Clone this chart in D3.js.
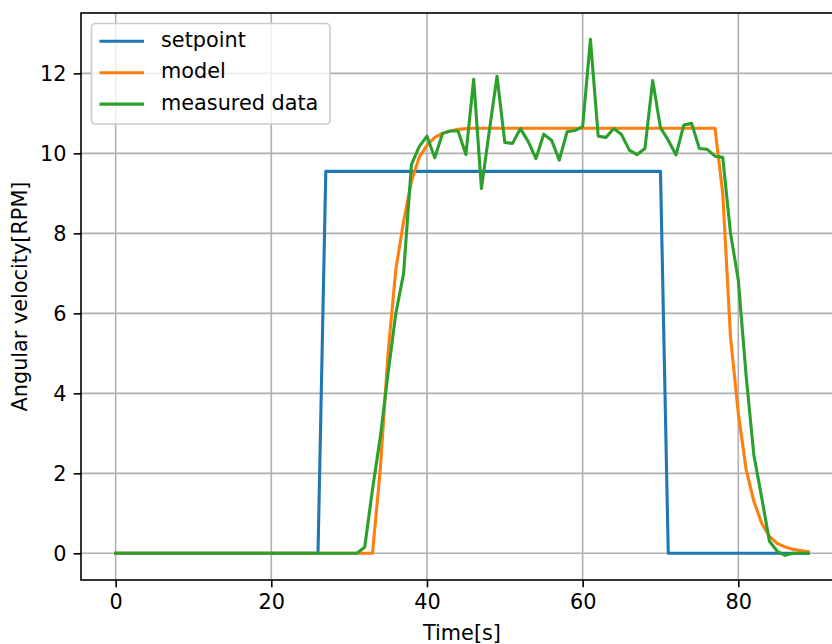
<!DOCTYPE html>
<html>
<head>
<meta charset="utf-8">
<script src="https://cdn.jsdelivr.net/npm/d3@7"></script>
<style>
  body { margin: 0; background: #fff; }
  svg text { font-family: "DejaVu Sans", sans-serif; fill: #000; }
</style>
</head>
<body>
<svg id="chart"></svg>
<script>
// sample times [s]
const time = [0,1,2,3,4,5,6,7,8,9,10,11,12,13,14,15,16,17,18,19,
  20,21,22,23,24,25,26,27,28,29,30,31,32,33,34,35,36,37,38,39,
  40,41,42,43,44,45,46,47,48,49,50,51,52,53,54,55,56,57,58,59,
  60,61,62,63,64,65,66,67,68,69,70,71,72,73,74,75,76,77,78,79,
  80,81,82,83,84,85,86,87,88,89]

const setpoint = [0,0,0,0,0,0,0,0,0,0,0,0,0,0,0,0,0,0,0,0,
  0,0,0,0,0,0,0,9.55,9.55,9.55,9.55,9.55,9.55,9.55,9.55,9.55,9.55,9.55,9.55,9.55,
  9.55,9.55,9.55,9.55,9.55,9.55,9.55,9.55,9.55,9.55,9.55,9.55,9.55,9.55,9.55,9.55,9.55,9.55,9.55,9.55,
  9.55,9.55,9.55,9.55,9.55,9.55,9.55,9.55,9.55,9.55,9.55,0,0,0,0,0,0,0,0,0,
  0,0,0,0,0,0,0,0,0,0]

const model = [0,0,0,0,0,0,0,0,0,0,0,0,0,0,0,0,0,0,0,0,
  0,0,0,0,0,0,0,0,0,0,0,0,0,0,2.1,5.0,7.1,8.3,9.3,9.9,
  10.2,10.4,10.5,10.56,10.6,10.62,10.63,10.63,10.63,10.63,10.63,10.63,10.63,10.63,10.63,10.63,10.63,10.63,10.63,10.63,
  10.63,10.63,10.63,10.63,10.63,10.63,10.63,10.63,10.63,10.63,10.63,10.63,10.63,10.63,10.63,10.63,10.63,10.63,9.0,5.4,
  3.5,2.1,1.3,0.75,0.42,0.25,0.16,0.1,0.07,0.04]

const measured = [0,0,0,0,0,0,0,0,0,0,0,0,0,0,0,0,0,0,0,0,
  0,0,0,0,0,0,0,0,0,0,0,0,0.15,1.6,2.9,4.5,6.0,7.0,9.72,10.17,
  10.43,9.89,10.5,10.56,10.56,9.97,11.85,9.12,10.55,11.93,10.27,10.25,10.62,10.3,9.87,10.48,10.33,9.83,10.54,10.57,
  10.67,12.85,10.43,10.4,10.62,10.47,10.08,9.97,10.12,11.82,10.64,10.33,9.96,10.71,10.75,10.12,10.1,9.93,9.9,8.0,
  6.83,4.45,2.45,1.4,0.3,0.05,-0.05,0,0,0]

const xTicks = [0, 20, 40, 60, 80]
const yTicks = [0, 2, 4, 6, 8, 10, 12]
const seriesNames = ['setpoint', 'model', 'measured data']
const seriesColors = ['#1f77b4', '#ff7f0e', '#2ca02c']
const series = [setpoint, model, measured]

const width = 832
const height = 644
const plot = {left: 81, right: 843, top: 13, bottom: 580}
const fs = 20.8

const x = d3.scaleLinear().domain([-4.45, 93.45]).range([plot.left, plot.right])
const y = d3.scaleLinear().domain([-0.667, 13.51]).range([plot.bottom, plot.top])

const svg = d3.select('#chart')
  .attr('width', width)
  .attr('height', height)

svg.append('rect').attr('width', width).attr('height', height).attr('fill', '#fff')

svg.append('clipPath').attr('id', 'clip')
  .append('rect')
  .attr('x', plot.left).attr('y', plot.top)
  .attr('width', plot.right - plot.left).attr('height', plot.bottom - plot.top)

// grid
const grid = svg.append('g').attr('stroke', '#b0b0b0').attr('stroke-width', 1.6)
grid.selectAll('.vgrid').data(xTicks).enter().append('line')
  .attr('x1', d => x(d)).attr('x2', d => x(d))
  .attr('y1', plot.top).attr('y2', plot.bottom)
grid.selectAll('.hgrid').data(yTicks).enter().append('line')
  .attr('x1', plot.left).attr('x2', plot.right)
  .attr('y1', d => y(d)).attr('y2', d => y(d))

// lines
const line = d3.line()
  .x((d, i) => x(time[i]))
  .y(d => y(d))

svg.append('g').attr('clip-path', 'url(#clip)')
  .selectAll('path')
  .data(series)
  .enter()
  .append('path')
  .attr('d', line)
  .attr('fill', 'none')
  .attr('stroke', (d, i) => seriesColors[i])
  .attr('stroke-width', 3.1)
  .attr('stroke-linejoin', 'round')
  .attr('stroke-linecap', 'square')

// axes
const xAxis = svg.append('g')
  .attr('transform', `translate(0,${plot.bottom})`)
  .call(d3.axisBottom(x).tickValues(xTicks).tickSize(7.3).tickPadding(7.3).tickFormat(d3.format('d')))
const yAxis = svg.append('g')
  .attr('transform', `translate(${plot.left},0)`)
  .call(d3.axisLeft(y).tickValues(yTicks).tickSize(7.3).tickPadding(7.3).tickFormat(d3.format('d')))

for (const ax of [xAxis, yAxis]) {
  ax.attr('font-size', fs).attr('font-family', '"DejaVu Sans", sans-serif')
  ax.select('.domain').remove()
  ax.selectAll('.tick line').attr('stroke', '#000').attr('stroke-width', 1.6)
}
yAxis.selectAll('.tick text').attr('dy', '0.36em')

// spines
const spines = svg.append('g').attr('stroke', '#000').attr('stroke-width', 1.6).attr('fill', 'none')
spines.append('rect')
  .attr('x', plot.left).attr('y', plot.top)
  .attr('width', plot.right - plot.left).attr('height', plot.bottom - plot.top)

// axis labels
svg.append('text')
  .attr('x', (plot.left + plot.right) / 2)
  .attr('y', 639.5)
  .attr('text-anchor', 'middle')
  .attr('font-size', fs)
  .text('Time[s]')

svg.append('text')
  .attr('transform', `translate(26.7,${(plot.top + plot.bottom) / 2}) rotate(-90)`)
  .attr('text-anchor', 'middle')
  .attr('font-size', fs)
  .text('Angular velocity[RPM]')

// legend
const legend = svg.append('g')
legend.append('rect')
  .attr('x', 91.5).attr('y', 23.5)
  .attr('width', 238.5).attr('height', 100.5)
  .attr('rx', 4)
  .attr('fill', '#fff').attr('fill-opacity', 0.8)
  .attr('stroke', '#cccccc').attr('stroke-width', 1.6)

const rows = legend.selectAll('.row')
  .data(seriesNames)
  .enter()
  .append('g')
  .attr('transform', (d, i) => `translate(0,${41.3 + i * 31.4})`)
rows.append('line')
  .attr('x1', 99.5).attr('x2', 144)
  .attr('stroke', (d, i) => seriesColors[i])
  .attr('stroke-width', 3.1)
rows.append('text')
  .attr('x', 161)
  .attr('y', 5.4)
  .attr('font-size', fs)
  .text(d => d)
</script>
</body>
</html>
